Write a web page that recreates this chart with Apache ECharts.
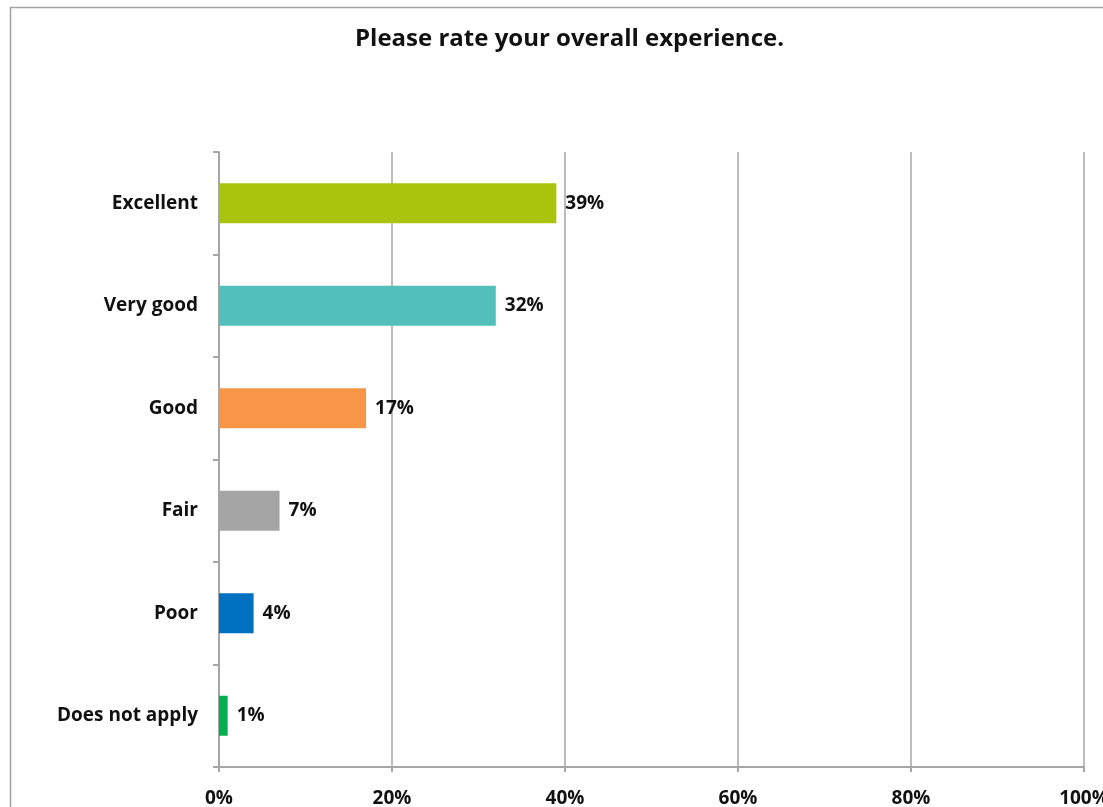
<!DOCTYPE html>
<html>
<head>
<meta charset="utf-8">
<script src="https://cdn.jsdelivr.net/npm/echarts@6/dist/echarts.min.js"></script>
<style>
  html, body { margin: 0; padding: 0; background: #fff; overflow: hidden; }
  #chart { width: 1103px; height: 807px; }
</style>
</head>
<body>
<div id="chart"></div>
<script>
// Survey answers, listed top to bottom
const categories = ['Excellent', 'Very good', 'Good', 'Fair', 'Poor', 'Does not apply'];
const shares = [39, 32, 17, 7, 4, 1];
const barColors = ['#A9C40D', '#52BFBB', '#F79646', '#A5A5A5', '#0070C0', '#00B050'];
const xTicks = [0, 20, 40, 60, 80, 100];

const FONT = '"Open Sans", Lato, "Liberation Sans", sans-serif';
const AXIS_GRAY = '#a6a6a6';

const chart = echarts.init(document.getElementById('chart'), null, { renderer: 'canvas' });

chart.setOption({
  backgroundColor: '#ffffff',
  animation: false,
  title: {
    text: 'Please rate your overall experience.',
    left: 350,
    top: 22,
    textStyle: { fontFamily: FONT, fontWeight: 'bold', fontSize: 24, color: '#111' }
  },
  graphic: [{
    type: 'rect',
    silent: true,
    shape: { x: 10.5, y: 7.5, width: 1200, height: 900 },
    style: { fill: 'none', stroke: '#a0a0a0', lineWidth: 1.5 }
  }],
  grid: { left: 219, right: 19, top: 152, bottom: 40, containLabel: false, outerBoundsMode: 'none' },
  xAxis: {
    type: 'value',
    min: xTicks[0],
    max: xTicks[xTicks.length - 1],
    interval: xTicks[1] - xTicks[0],
    axisLine: { show: true, lineStyle: { color: AXIS_GRAY, width: 2 } },
    axisTick: { show: true, length: 5, lineStyle: { color: AXIS_GRAY, width: 2 } },
    splitLine: { show: true, lineStyle: { color: AXIS_GRAY, width: 1.5 } },
    axisLabel: {
      formatter: v => v + '%',
      margin: 22,
      fontFamily: FONT, fontWeight: 'bold', fontSize: 19, color: '#111'
    }
  },
  yAxis: {
    type: 'category',
    data: categories,
    inverse: true,
    axisLine: { show: true, lineStyle: { color: AXIS_GRAY, width: 2 } },
    axisTick: { show: true, length: 6, alignWithLabel: false, lineStyle: { color: AXIS_GRAY, width: 2 } },
    axisLabel: {
      margin: 21,
      padding: [5, 0, 0, 0],
      fontFamily: FONT, fontWeight: 'bold', fontSize: 19, color: '#111'
    }
  },
  series: [{
    type: 'bar',
    barWidth: 40,
    data: shares.map((v, i) => ({ value: v, itemStyle: { color: barColors[i] } })),
    label: {
      show: true,
      position: 'right',
      distance: 9,
      padding: [6, 0, 0, 0],
      formatter: p => p.value + '%',
      fontFamily: FONT, fontWeight: 'bold', fontSize: 19, color: '#111'
    }
  }]
});
</script>
</body>
</html>
